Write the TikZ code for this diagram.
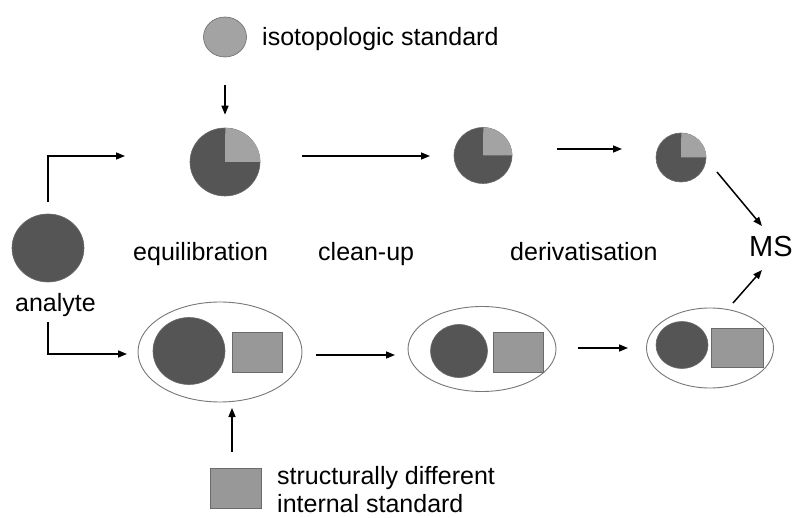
\documentclass[tikz,border=0pt]{standalone}
\usepackage{fontspec}
\setmainfont{Liberation Sans}
\usetikzlibrary{arrows.meta,shapes.geometric}
\definecolor{dk}{HTML}{555555}
\definecolor{lt}{HTML}{A3A3A3}
\definecolor{sq}{HTML}{989898}
\definecolor{edge}{HTML}{6A6A6A}
\definecolor{ringc}{HTML}{777777}
\begin{document}
\begin{tikzpicture}[x=1pt,y=-1pt,
  lbl/.style={font=\fontsize{25}{28}\selectfont, inner sep=0pt, anchor=base west},
  arr/.style={-{Triangle[length=9pt,width=7pt]}, line width=1.5pt, black},
  blob/.style={ellipse, draw=edge, line width=0.6pt, inner sep=0pt},
  sqbox/.style={rectangle, fill=sq, draw=edge, line width=0.9pt, inner sep=0pt},
  ring/.style={ellipse, draw=ringc, line width=0.9pt, fill=white, inner sep=0pt}]
\useasboundingbox[fill=white] (0,0) rectangle (795,518);

% isotopologic standard
\node[blob, fill=lt, minimum width=43, minimum height=40] (iso) at (225,37) {};
\node[lbl] (isotxt) at (262,46) {isotopologic standard};

% pies
\node[blob, fill=dk, minimum width=70, minimum height=68] (pie1) at (225,162) {};
\fill[lt] (pie1.center) -- (pie1.east) arc[start angle=0, end angle=-90, x radius=35, y radius=34] -- cycle;
\node[blob, fill=dk, minimum width=58, minimum height=56] (pie2) at (483,155.5) {};
\fill[lt] (pie2.center) -- (pie2.east) arc[start angle=0, end angle=-90, x radius=29, y radius=28] -- cycle;
\node[blob, fill=dk, minimum width=50, minimum height=49] (pie3) at (681,157.5) {};
\fill[lt] (pie3.center) -- (pie3.east) arc[start angle=0, end angle=-90, x radius=25, y radius=24.5] -- cycle;

% analyte
\node[blob, fill=dk, minimum width=72, minimum height=68] (analyte) at (48,248) {};
\node[lbl] (analytetxt) at (15,312) {analyte};

% step labels
\node[lbl] (equ) at (133,261) {equilibration};
\node[lbl] (clean) at (318,261) {clean-up};
\node[lbl] (deriv) at (510,261) {derivatisation};
\node[lbl, font=\fontsize{29}{32}\selectfont] (ms) at (749,257) {MS};

% lower row
\node[ring, minimum width=164, minimum height=100] (ell1) at (220,352) {};
\node[blob, fill=dk, minimum width=72, minimum height=67] (c1) at (189,351) {};
\node[sqbox, minimum width=50, minimum height=40] (s1) at (257,352) {};

\node[ring, minimum width=148, minimum height=85] (ell2) at (482,349) {};
\node[blob, fill=dk, minimum width=57, minimum height=53] (c2) at (459,351) {};
\node[sqbox, minimum width=50, minimum height=40] (s2) at (518,352) {};

\node[ring, minimum width=127, minimum height=80] (ell3) at (710,348) {};
\node[blob, fill=dk, minimum width=52, minimum height=47] (c3) at (682,345) {};
\node[sqbox, minimum width=52, minimum height=39] (s3) at (737,347.5) {};

% internal standard
\node[sqbox, minimum width=51, minimum height=40] (isq) at (235.5,488) {};
\node[lbl] (istxt1) at (277,484) {structurally different};
\node[lbl] (istxt2) at (277,512) {internal standard};

% connector end points
\coordinate (a1) at (302,156); \coordinate (b1) at (430,156);
\coordinate (a2) at (557,149); \coordinate (b2) at (622,149);
\coordinate (a3) at (717,172); \coordinate (b3) at (762,226);
\coordinate (a4) at (733,303); \coordinate (b4) at (762,270);
\coordinate (up) at (125,156); \coordinate (dn) at (127,354);
\coordinate (a5) at (316,355); \coordinate (b5) at (395,355);
\coordinate (a6) at (578,348); \coordinate (b6) at (628,348);
\coordinate (a7) at (232,452); \coordinate (b7) at (232,408);

% connectors
\draw[arr, shorten <=28pt, shorten >=13pt] (iso) -- (pie1);
\draw[arr] (a1) -- (b1);
\draw[arr] (a2) -- (b2);
\draw[arr] (a3) -- (b3);
\draw[arr] (a4) -- (b4);
\draw[arr, shorten <=12pt] (analyte.north) |- (up);
\draw[arr, shorten <=-1pt] (analyte.south |- 0,323) |- (dn);
\draw[arr] (a5) -- (b5);
\draw[arr] (a6) -- (b6);
\draw[arr] (a7) -- (b7);
\end{tikzpicture}
\end{document}
